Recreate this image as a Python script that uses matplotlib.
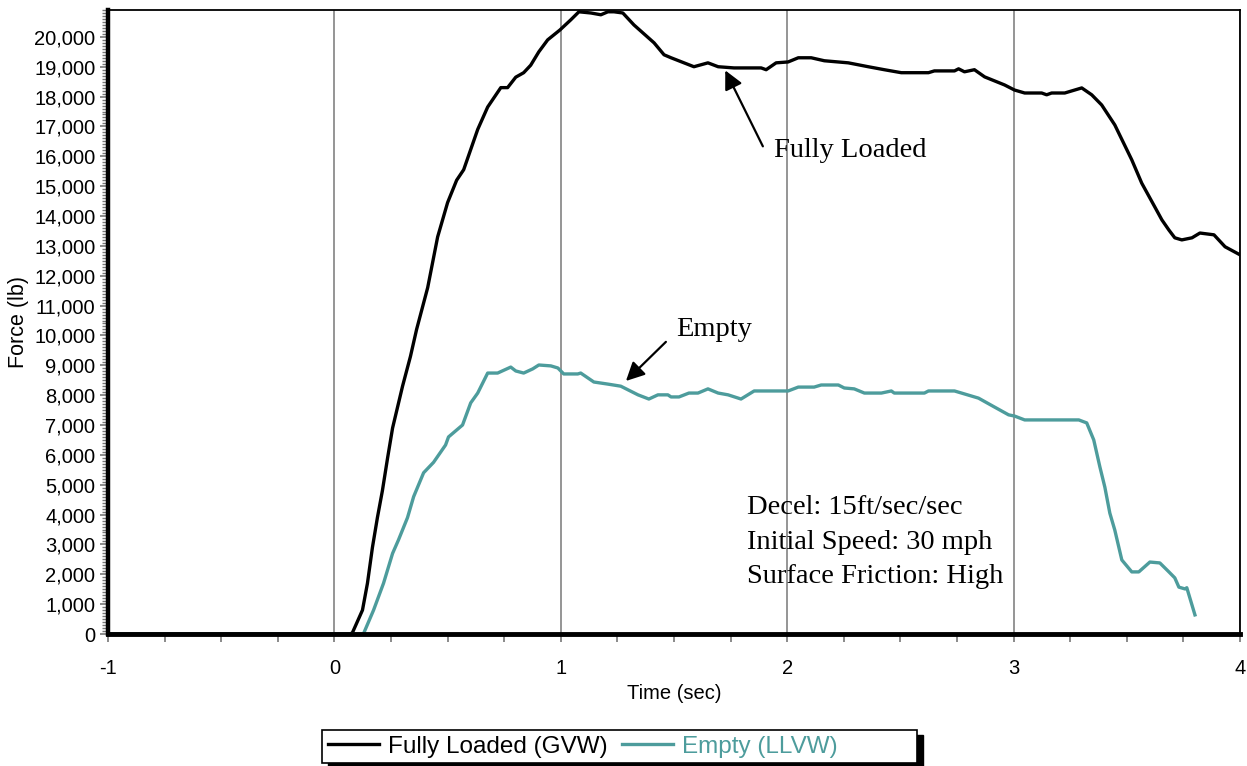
import matplotlib.pyplot as plt
from matplotlib.patches import Rectangle
from matplotlib.ticker import MultipleLocator, FuncFormatter

plt.rcParams['axes.unicode_minus'] = False

# time (sec) and force (lb)
t_loaded = [-1.0, 0.0, 0.071, 0.080, 0.124, 0.146, 0.168, 0.190, 0.212, 0.235, 0.257,
            0.301, 0.336, 0.363, 0.412, 0.456, 0.500, 0.540, 0.571, 0.633, 0.677,
            0.735, 0.765, 0.801, 0.836, 0.867, 0.903, 0.942, 0.996, 1.044, 1.080,
            1.133, 1.177, 1.208, 1.235, 1.274, 1.323, 1.412, 1.456, 1.487, 1.588,
            1.650, 1.695, 1.765, 1.885, 1.907, 1.951, 2.004, 2.049, 2.106, 2.164,
            2.270, 2.358, 2.429, 2.504, 2.624, 2.650, 2.739, 2.757, 2.783, 2.827,
            2.872, 2.960, 3.004, 3.049, 3.124, 3.146, 3.168, 3.226, 3.301, 3.345,
            3.389, 3.447, 3.522, 3.566, 3.624, 3.655, 3.686, 3.712, 3.743, 3.788,
            3.823, 3.885, 3.934, 4.0]
f_loaded = [0, 0, 0, 50, 800, 1700, 2900, 3900, 4800, 5900, 6900,
            8300, 9300, 10200, 11600, 13300, 14450, 15200, 15550, 16900, 17650,
            18300, 18300, 18650, 18800, 19050, 19500, 19900, 20230, 20570, 20840,
            20800, 20740, 20840, 20840, 20800, 20400, 19800, 19400, 19300, 19000,
            19130, 19000, 18960, 18960, 18900, 19130, 19160, 19300, 19300, 19200,
            19130, 19000, 18900, 18800, 18800, 18860, 18860, 18930, 18830, 18900,
            18660, 18390, 18220, 18120, 18120, 18060, 18120, 18120, 18290, 18060,
            17720, 17050, 15880, 15100, 14300, 13870, 13530, 13270, 13200, 13270,
            13430, 13370, 12970, 12700]

t_empty = [-1.0, 0.0, 0.128, 0.173, 0.217, 0.257, 0.283, 0.323, 0.350, 0.394, 0.438,
           0.491, 0.504, 0.566, 0.602, 0.633, 0.677, 0.721, 0.779, 0.801, 0.836,
           0.876, 0.903, 0.956, 0.987, 1.013, 1.075, 1.088, 1.146, 1.208, 1.265,
           1.341, 1.389, 1.429, 1.473, 1.487, 1.522, 1.566, 1.606, 1.650, 1.695,
           1.739, 1.796, 1.854, 2.004, 2.049, 2.119, 2.150, 2.226, 2.252, 2.296,
           2.341, 2.416, 2.460, 2.473, 2.606, 2.624, 2.739, 2.770, 2.845, 2.916,
           2.978, 3.004, 3.049, 3.288, 3.323, 3.354, 3.381, 3.403, 3.425, 3.447,
           3.478, 3.522, 3.553, 3.602, 3.646, 3.686, 3.712, 3.730, 3.757, 3.765,
           3.801]
f_empty = [0, 0, 0, 800, 1700, 2700, 3150, 3900, 4600, 5400, 5750,
           6330, 6600, 7000, 7740, 8070, 8740, 8740, 8940, 8810, 8740,
           8880, 9010, 8980, 8910, 8710, 8710, 8740, 8440, 8370, 8300,
           8010, 7870, 8010, 8010, 7940, 7940, 8070, 8070, 8210, 8070,
           8010, 7870, 8140, 8140, 8270, 8270, 8340, 8340, 8240, 8210,
           8070, 8070, 8140, 8070, 8070, 8140, 8140, 8070, 7900, 7600,
           7340, 7300, 7170, 7170, 7070, 6500, 5600, 4920, 4050, 3480,
           2480, 2080, 2080, 2410, 2380, 2080, 1880, 1570, 1510, 1550,
           640]

TEAL = '#4d9c9c'
SANS = 'Liberation Sans'
SERIF = 'Liberation Serif'

fig = plt.figure(figsize=(12.47, 7.66), dpi=100)
ax = fig.add_axes([108 / 1247, 1 - 634 / 766, (1240 - 108) / 1247, (634 - 10) / 766])

ax.plot(t_loaded, f_loaded, color='black', lw=2.4, label='Fully Loaded (GVW)',
        solid_joinstyle='round', zorder=3)
ax.plot(t_empty, f_empty, color=TEAL, lw=2.4, label='Empty (LLVW)',
        solid_joinstyle='round', zorder=4)

ax.set_xlim(-1, 4)
ax.set_ylim(0, 20900)
ax.xaxis.set_major_locator(MultipleLocator(1))
ax.xaxis.set_minor_locator(MultipleLocator(0.25))
ax.yaxis.set_major_locator(MultipleLocator(1000))
ax.yaxis.set_minor_locator(MultipleLocator(100))
ax.yaxis.set_major_formatter(FuncFormatter(lambda v, p: f'{int(v):,}'))
ax.grid(axis='x', which='major', color='#8c8c8c', lw=1.3)
ax.set_axisbelow(True)

ax.tick_params(axis='both', which='both', colors='#777777', labelcolor='black',
               labelsize=14.5)
ax.tick_params(axis='y', which='major', length=6, width=1.2, pad=3)
ax.tick_params(axis='y', which='minor', length=4, width=1.0)
ax.tick_params(axis='x', which='both', length=6, width=1.2, pad=12)
for lab in ax.get_xticklabels() + ax.get_yticklabels():
    lab.set_family(SANS)

ax.spines['left'].set_linewidth(3.2)
ax.spines['bottom'].set_linewidth(3.5)
ax.spines['top'].set_linewidth(1.3)
ax.spines['right'].set_linewidth(1.3)
for s in ax.spines.values():
    s.set_zorder(5)

ax.set_xlabel('Time (sec)', family=SANS, fontsize=14.5, labelpad=4)
ax.set_ylabel('Force (lb)', family=SANS, fontsize=15.5, labelpad=4)

# annotations
ax.annotate('', xy=(1.721, 18960), xytext=(1.898, 16250),
            arrowprops=dict(arrowstyle='-|>', mutation_scale=28, lw=1.6, color='black'))
ax.text(1.94, 16200, 'Fully Loaded', family=SERIF, fontsize=20.5, va='center', ha='left')
ax.annotate('', xy=(1.279, 8410), xytext=(1.473, 9850),
            arrowprops=dict(arrowstyle='-|>', mutation_scale=28, lw=1.6, color='black'))
ax.text(1.509, 10200, 'Empty', family=SERIF, fontsize=20.5, va='center', ha='left')
ax.text(1.823, 4250, 'Decel: 15ft/sec/sec', family=SERIF, fontsize=20.5, va='center')
ax.text(1.823, 3050, 'Initial Speed: 30 mph', family=SERIF, fontsize=20.5, va='center')
ax.text(1.823, 1940, 'Surface Friction: High', family=SERIF, fontsize=20.5, va='center')

# legend box with drop shadow
bx, by, bw, bh = 322 / 1247, 1 - 763 / 766, 595 / 1247, 33 / 766
fig.patches.append(Rectangle((bx + 6 / 1247, by - 5 / 766), bw, bh, transform=fig.transFigure,
                             facecolor='black', edgecolor='black', zorder=1))
fig.patches.append(Rectangle((bx, by), bw, bh, transform=fig.transFigure,
                             facecolor='white', edgecolor='black', lw=1.2, zorder=2))
leg = fig.legend(loc='center left', bbox_to_anchor=(bx + 4 / 1247, by + bh / 2), ncol=2,
                 frameon=False, prop={'family': SANS, 'size': 17.5}, labelcolor='linecolor',
                 handlelength=2.1, handletextpad=0.35, columnspacing=0.6,
                 borderaxespad=0, borderpad=0.1)
leg.set_zorder(3)

fig.savefig('out.png', dpi=100)
